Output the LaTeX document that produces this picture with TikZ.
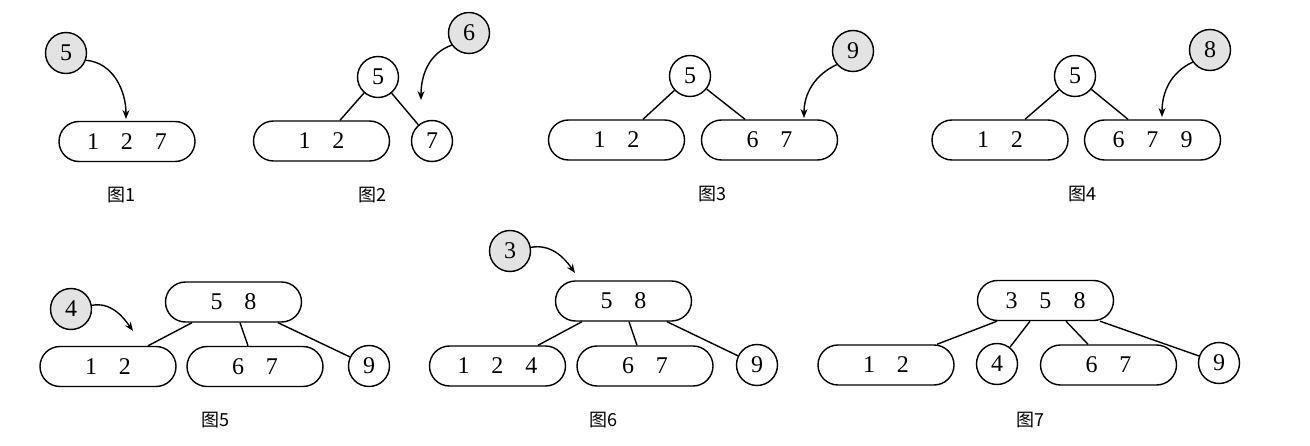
\documentclass[tikz,border=0pt]{standalone}
\usepackage{fontspec}
\setmainfont{Liberation Serif}
\newfontfamily\cjk{Noto Sans CJK SC}
\usetikzlibrary{arrows.meta}
\newcommand\gp{\hspace{22pt}}
\tikzset{
  keybox/.style={rectangle, draw, line width=1.4pt, rounded corners=20pt,
    minimum width=136pt, minimum height=40pt, inner sep=0pt,
    font=\fontsize{24}{28}\selectfont},
  nd/.style={circle, draw, line width=1.4pt, minimum size=41pt, inner sep=0pt,
    font=\fontsize{24}{28}\selectfont},
  nw/.style={nd, fill=gray!22},
  edg/.style={line width=1.4pt},
  arr/.style={line width=1.4pt, -{Stealth[length=9pt,width=7pt]}},
  captxt/.style={font=\cjk\fontsize{18}{21}\selectfont}
}
\begin{document}
\begin{tikzpicture}[x=1pt,y=-1pt]
\useasboundingbox (0,0) rectangle (1310,446);
% Figure 1
\node[nw] (g1) at (66,53) {5};
\node[keybox] (b1) at (127,141.5) {1\gp2\gp7};
\coordinate (t1) at (126,119);
\draw[arr] (g1.-20) to[out=-5,in=90] (t1);
\node[captxt] (c1) at (121,195) {图1};
% Figure 2
\node[nd] (r2) at (378,77) {5};
\node[keybox] (b2a) at (321.5,141) {1\gp2};
\node[nd] (n2) at (432,141) {7};
\node[nw] (g2) at (469,33) {6};
\draw[edg] (r2) -- ([xshift=18.5pt]b2a.north);
\draw[edg] (r2) -- (n2);
\coordinate (t2) at (421,100);
\draw[arr] (g2.215) to[out=200,in=90] (t2);
\node[captxt] (c2) at (372,195) {图2};
% Figure 3
\node[nd] (r3) at (690,76) {5};
\node[keybox] (b3a) at (616.5,140) {1\gp2};
\node[keybox] (b3b) at (769.5,140) {6\gp7};
\draw[edg] (r3) -- ([xshift=26.5pt]b3a.north);
\draw[edg] (r3) -- ([xshift=-24.5pt]b3b.north);
\node[nw] (g3) at (853,51) {9};
\coordinate (t3) at (804,118);
\draw[arr] (g3.220) to[out=205,in=90] (t3);
\node[captxt] (c3) at (712,194) {图3};
% Figure 4
\node[nd] (r4) at (1075,76) {5};
\node[keybox] (b4a) at (1000,140) {1\gp2};
\node[keybox] (b4b) at (1152.5,140) {6\gp7\gp9};
\draw[edg] (r4) -- ([xshift=25pt]b4a.north);
\draw[edg] (r4) -- ([xshift=-24.5pt]b4b.north);
\node[nw] (g4) at (1210,50) {8};
\coordinate (t4) at (1162,117);
\draw[arr] (g4.215) to[out=205,in=90] (t4);
\node[captxt] (c4) at (1082,194) {图4};
% Figure 5
\node[keybox] (b5r) at (233.5,302) {5\gp8};
\node[keybox] (b5a) at (108,366.5) {1\gp2};
\node[keybox] (b5b) at (255,366.5) {6\gp7};
\node[nd] (n5) at (369,366) {9};
\node[nw] (g5) at (71,309) {4};
\draw[edg] ([xshift=-41.5pt]b5r.south) -- ([xshift=40pt]b5a.north);
\draw[edg] ([xshift=6.5pt]b5r.south) -- ([xshift=-7pt]b5b.north);
\draw[edg] ([xshift=44.5pt]b5r.south) -- (n5);
\coordinate (t5) at (133,331);
\draw[arr] (g5.10) to[out=10,in=125] (t5);
\node[captxt] (c5) at (215,420) {图5};
% Figure 6
\node[nw] (g6) at (510,251) {3};
\node[keybox] (b6r) at (623.5,301) {5\gp8};
\node[keybox] (b6a) at (497.5,366) {1\gp2\gp4};
\node[keybox] (b6b) at (645,366) {6\gp7};
\node[nd] (n6) at (757,365) {9};
\draw[edg] ([xshift=-41.5pt]b6r.south) -- ([xshift=40.5pt]b6a.north);
\draw[edg] ([xshift=5.5pt]b6r.south) -- ([xshift=-8pt]b6b.north);
\draw[edg] ([xshift=43.5pt]b6r.south) -- (n6);
\coordinate (t6) at (575,273);
\draw[arr] (g6.10) to[out=10,in=125] (t6);
\node[captxt] (c6) at (603,420) {图6};
% Figure 7
\node[keybox] (b7r) at (1045.5,300.5) {3\gp5\gp8};
\node[keybox] (b7a) at (886,365) {1\gp2};
\node[nd] (n7a) at (997,364) {4};
\node[keybox] (b7b) at (1108.5,365) {6\gp7};
\node[nd] (n7b) at (1219,363) {9};
\draw[edg] ([xshift=-48.5pt]b7r.south) -- ([xshift=51pt]b7a.north);
\draw[edg] ([xshift=-15.5pt]b7r.south) -- (n7a);
\draw[edg] ([xshift=20.5pt]b7r.south) -- ([xshift=-20.5pt]b7b.north);
\draw[edg] ([xshift=54.5pt]b7r.south) -- (n7b);
\node[captxt] (c7) at (1030,420) {图7};
\end{tikzpicture}
\end{document}
